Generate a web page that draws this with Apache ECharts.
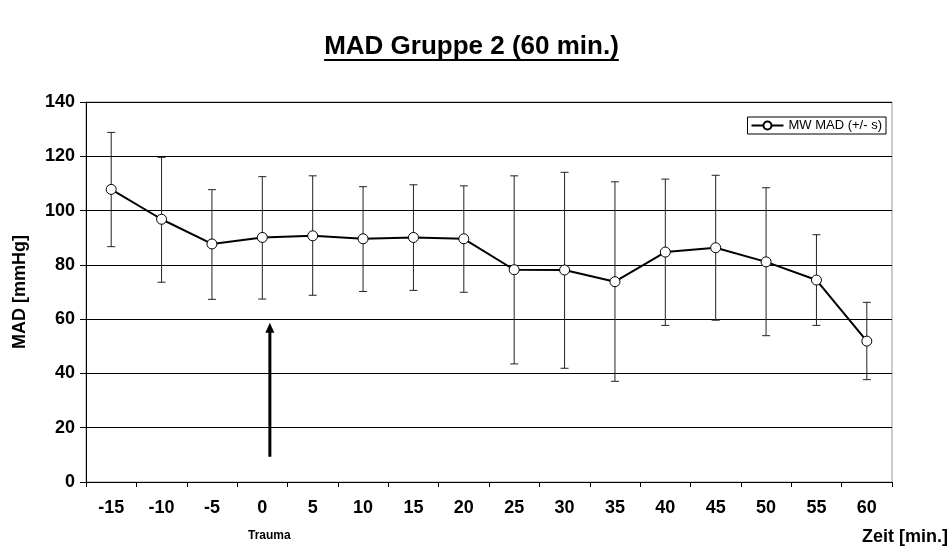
<!DOCTYPE html>
<html>
<head>
<meta charset="utf-8">
<script src="https://cdn.jsdelivr.net/npm/echarts@6/dist/echarts.min.js"></script>
<style>
html,body{margin:0;padding:0;background:#fff;}
#c{width:951px;height:547px;}
</style>
</head>
<body>
<div id="c"></div>
<script>
const categories = ['-15','-10','-5','0','5','10','15','20','25','30','35','40','45','50','55','60'];
const meanMAD = [107.8, 96.8, 87.7, 90.1, 90.7, 89.6, 90.1, 89.6, 78.2, 78.1, 73.8, 84.7, 86.3, 81.1, 74.4, 51.9];
const upperMAD = [128.8, 119.6, 107.7, 112.5, 112.8, 108.8, 109.5, 109.1, 112.8, 114.1, 110.6, 111.6, 113.0, 108.4, 91.1, 66.2];
const lowerMAD = [86.7, 73.6, 67.3, 67.4, 68.8, 70.2, 70.6, 69.9, 43.5, 41.9, 37.1, 57.7, 59.6, 53.9, 57.7, 37.7];
const yTicks = [0, 20, 40, 60, 80, 100, 120, 140];
const arrowX = 3.15;      // category position (between 0 and 5)
const arrowFrom = 9.3;    // MAD value at arrow tail
const arrowTo = 58.7;     // MAD value at arrow tip

const chart = echarts.init(document.getElementById('c'), null, {renderer: 'canvas'});
const font = 'Liberation Sans, Arial, sans-serif';
const titleText = 'MAD Gruppe 2 (60 min.)';
const titleFont = 'bold 26px ' + font;

const errData = categories.map((c, i) => [i, upperMAD[i], lowerMAD[i]]);

chart.setOption({
  animation: false,
  backgroundColor: '#fff',
  grid: {left: 86, right: 59, top: 102, bottom: 65, show: true, borderColor: '#999', borderWidth: 1, backgroundColor: 'transparent'},
  legend: {
    data: ['MW MAD (+/- s)'],
    right: 65, top: 117,
    orient: 'horizontal',
    borderColor: '#000', borderWidth: 1, padding: [2, 4, 2, 3],
    itemWidth: 32, itemHeight: 10, itemGap: 4,
    textStyle: {fontFamily: font, fontSize: 13, color: '#000'}
  },
  xAxis: {
    type: 'category', data: categories, boundaryGap: true,
    axisLine: {lineStyle: {color: '#000', width: 1}},
    axisTick: {show: true, length: 5, interval: 0, lineStyle: {color: '#000'}},
    axisLabel: {fontFamily: font, fontWeight: 'bold', fontSize: 18, color: '#000', margin: 17, interval: 0},
    splitLine: {show: false}
  },
  yAxis: {
    type: 'value', min: yTicks[0], max: yTicks[yTicks.length - 1], interval: 20,
    name: 'MAD [mmHg]', nameLocation: 'middle', nameGap: 57, nameRotate: 90,
    nameTextStyle: {fontFamily: font, fontWeight: 'bold', fontSize: 18, color: '#000'},
    axisLine: {show: true, lineStyle: {color: '#000', width: 1}},
    axisTick: {show: true, length: 6, lineStyle: {color: '#000'}},
    axisLabel: {fontFamily: font, fontWeight: 'bold', fontSize: 18, color: '#000', margin: 11},
    splitLine: {show: true, lineStyle: {color: '#000', width: 1}}
  },
  series: [
    {
      name: 'errorbars', type: 'custom', data: errData, z: 2,
      renderItem: function (params, api) {
        const hi = api.coord([api.value(0), api.value(1)]);
        const lo = api.coord([api.value(0), api.value(2)]);
        const w = 4;
        const st = {stroke: '#222', lineWidth: 1};
        return {type: 'group', children: [
          {type: 'line', shape: {x1: hi[0], y1: hi[1], x2: lo[0], y2: lo[1]}, style: st},
          {type: 'line', shape: {x1: hi[0] - w, y1: hi[1], x2: hi[0] + w, y2: hi[1]}, style: st},
          {type: 'line', shape: {x1: lo[0] - w, y1: lo[1], x2: lo[0] + w, y2: lo[1]}, style: st}
        ]};
      }
    },
    {
      name: 'MW MAD (+/- s)', type: 'line', data: meanMAD, z: 3,
      symbol: 'circle', symbolSize: 10,
      lineStyle: {color: '#000', width: 2},
      itemStyle: {color: '#fff', borderColor: '#000', borderWidth: 1}
    }
  ]
});

// title underline width from text measurement; trauma arrow from the chart's scales
const ctx = document.createElement('canvas').getContext('2d');
ctx.font = titleFont;
const tw = ctx.measureText(titleText).width;
const tx = (951 - tw) / 2 - 4;
const p0 = chart.convertToPixel({xAxisIndex: 0, yAxisIndex: 0}, [3, arrowFrom]);
const p1 = chart.convertToPixel({xAxisIndex: 0, yAxisIndex: 0}, [4, arrowTo]);
const ax = p0[0] + (p1[0] - p0[0]) * (arrowX - 3);
const yTail = p0[1], yTip = p1[1];
chart.setOption({
  graphic: [
    {type: 'text', left: tx, top: 34, style: {text: titleText, font: titleFont, fill: '#000'}},
    {type: 'line', shape: {x1: tx, y1: 60, x2: tx + tw, y2: 60}, style: {stroke: '#000', lineWidth: 2}},
    {type: 'text', left: 248, top: 530, style: {text: 'Trauma', font: 'bold 12px ' + font, fill: '#000'}},
    {type: 'text', right: 3, top: 528, style: {text: 'Zeit [min.]', font: 'bold 18px ' + font, fill: '#000'}},
    {type: 'line', shape: {x1: ax, y1: yTail, x2: ax, y2: yTip + 8}, style: {stroke: '#000', lineWidth: 3}},
    {type: 'polygon', shape: {points: [[ax, yTip], [ax - 4.5, yTip + 10], [ax + 4.5, yTip + 10]]}, style: {fill: '#000'}}
  ]
});
</script>
</body>
</html>
